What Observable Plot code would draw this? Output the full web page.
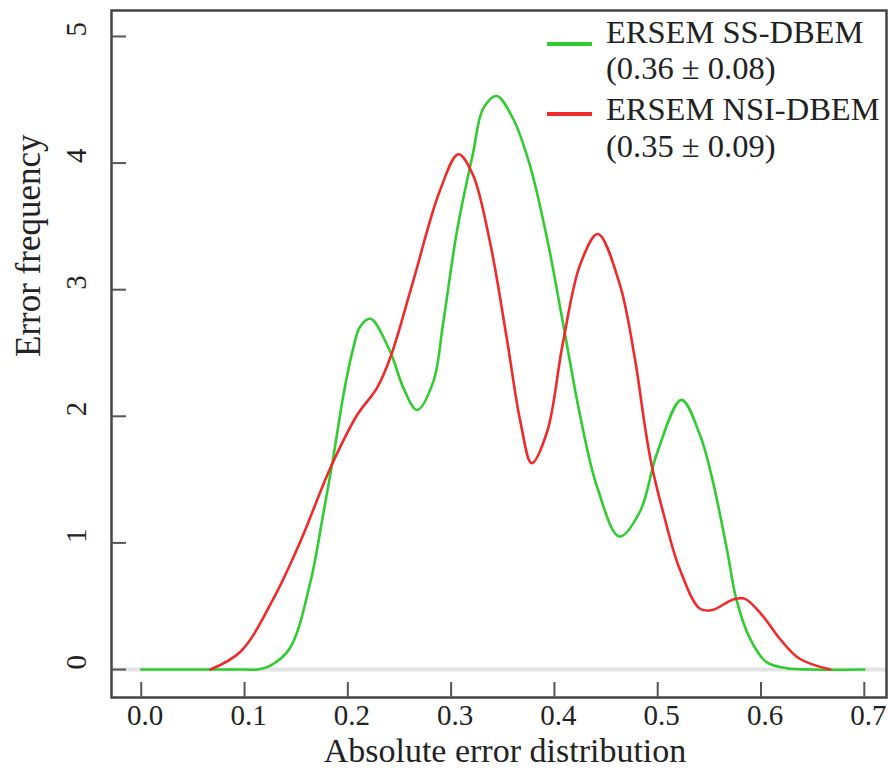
<!DOCTYPE html>
<html>
<head>
<meta charset="utf-8">
<script src="https://cdn.jsdelivr.net/npm/d3@7"></script>
<script src="https://cdn.jsdelivr.net/npm/@observablehq/plot@0.6"></script>
<style>
  html, body { margin: 0; padding: 0; background: white; }
</style>
</head>
<body>
<div id="chart"></div>
<script>
// ---- data ----
const xTicks = [0.0, 0.1, 0.2, 0.3, 0.4, 0.5, 0.6, 0.7];
const yTicks = [0, 1, 2, 3, 4, 5];

const ssX = [0, 0.05, 0.1, 0.113, 0.125, 0.144, 0.164, 0.176, 0.186, 0.196, 0.205, 0.212, 0.222, 0.241, 0.254, 0.267, 0.283, 0.292, 0.306, 0.321, 0.331, 0.344, 0.360, 0.376, 0.393, 0.408, 0.425, 0.441, 0.463, 0.483, 0.499, 0.523, 0.541, 0.553, 0.567, 0.576, 0.589, 0.605, 0.625, 0.65, 0.7];
const ssY = [0, 0, 0, 0, 0.03, 0.17, 0.70, 1.22, 1.68, 2.18, 2.53, 2.71, 2.77, 2.51, 2.22, 2.05, 2.28, 2.72, 3.48, 4.07, 4.43, 4.53, 4.35, 3.99, 3.40, 2.75, 2.00, 1.45, 1.05, 1.25, 1.70, 2.13, 1.85, 1.50, 0.95, 0.56, 0.25, 0.06, 0.01, 0, 0];

const nsiX = [0.067, 0.096, 0.128, 0.154, 0.183, 0.209, 0.228, 0.241, 0.263, 0.289, 0.307, 0.321, 0.338, 0.354, 0.367, 0.378, 0.393, 0.408, 0.425, 0.442, 0.463, 0.478, 0.488, 0.494, 0.505, 0.521, 0.541, 0.553, 0.572, 0.584, 0.601, 0.618, 0.637, 0.667];
const nsiY = [0, 0.14, 0.56, 1.01, 1.59, 2.01, 2.22, 2.46, 3.06, 3.78, 4.07, 3.91, 3.36, 2.61, 1.96, 1.63, 1.88, 2.57, 3.20, 3.44, 3.05, 2.45, 1.90, 1.62, 1.25, 0.80, 0.48, 0.47, 0.55, 0.56, 0.43, 0.245, 0.087, 0];

const seriesNames = ["ERSEM SS-DBEM", "ERSEM NSI-DBEM"];
const seriesStats = ["(0.36 \u00B1 0.08)", "(0.35 \u00B1 0.09)"];
const seriesColors = ["#30cc30", "#f02a2a"];

const xTitle = "Absolute error distribution";
const yTitle = "Error frequency";

// ---- build tables ----
const ss = ssX.map((x, i) => ({x, y: ssY[i]}));
const nsi = nsiX.map((x, i) => ({x, y: nsiY[i]}));

const W = 888, H = 778;
const mL = 111, mR = 2, mT = 10, mB = 81;
const font = "Liberation Serif, Times New Roman, serif";

const svg = Plot.plot({
  width: W,
  height: H,
  marginLeft: mL,
  marginRight: mR,
  marginTop: mT,
  marginBottom: mB,
  x: {domain: [-0.0288, 0.7215], axis: null},
  y: {domain: [-0.221, 5.205], axis: null},
  style: {fontFamily: font, color: "#222", background: "white", overflow: "visible"},
  marks: [
    Plot.ruleY([0], {stroke: "#e4e4e4", strokeWidth: 4}),
    Plot.line(ss, {x: "x", y: "y", stroke: seriesColors[0], strokeWidth: 2.6, curve: "catmull-rom"}),
    Plot.line(nsi, {x: "x", y: "y", stroke: seriesColors[1], strokeWidth: 2.6, curve: "catmull-rom"}),
    Plot.frame({stroke: "#444", strokeWidth: 2.5}),
    Plot.tickX(xTicks, {x: d => d, stroke: "#555", strokeWidth: 2, insetTop: H - mT - mB - 15}),
    Plot.tickY(yTicks, {y: d => d, stroke: "#555", strokeWidth: 2, insetRight: W - mL - mR - 15}),
    Plot.text(xTicks, {x: d => d, frameAnchor: "bottom", dy: 27, dx: 4, text: d => d.toFixed(1), fontSize: 29, fill: "#222"}),
    Plot.text(yTicks, {y: d => d, frameAnchor: "left", dx: -35, rotate: -90, text: d => String(d), fontSize: 29, fill: "#222"}),
    Plot.text([xTitle], {frameAnchor: "bottom", dy: 64, dx: 6, text: d => d, fontSize: 34, fill: "#222"}),
    Plot.text([yTitle], {frameAnchor: "left", dx: -83, dy: 3, rotate: -90, text: d => d, fontSize: 35, fill: "#222"})
  ]
});

// ---- legend inside the plot (top right) ----
const g = d3.select(svg).append("g")
  .attr("font-family", font)
  .attr("fill", "#222")
  .attr("text-anchor", "start");
const legendRows = [
  {color: seriesColors[0], name: seriesNames[0], stat: seriesStats[0], lineY: 44, nameY: 43, statY: 79},
  {color: seriesColors[1], name: seriesNames[1], stat: seriesStats[1], lineY: 114, nameY: 120, statY: 157}
];
legendRows.forEach(r => {
  g.append("line").attr("x1", 547).attr("x2", 592).attr("y1", r.lineY).attr("y2", r.lineY)
    .attr("stroke", r.color).attr("stroke-width", 4);
  g.append("text").attr("x", 606).attr("y", r.nameY).attr("font-size", 32.5).attr("text-anchor", "start").text(r.name);
  g.append("text").attr("x", 606).attr("y", r.statY).attr("font-size", 32.5).attr("text-anchor", "start").text(r.stat);
});

document.getElementById("chart").appendChild(svg);
</script>
</body>
</html>
